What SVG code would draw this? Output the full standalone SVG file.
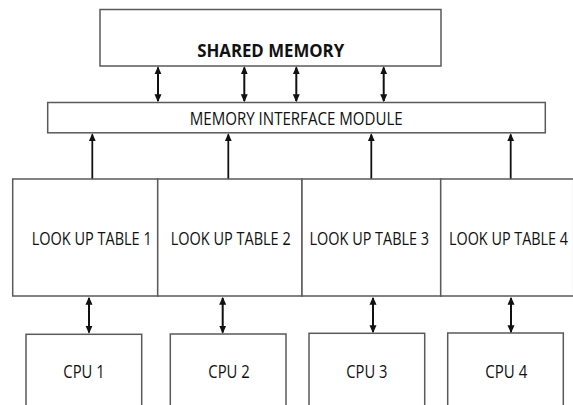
<svg xmlns="http://www.w3.org/2000/svg" width="573" height="405" viewBox="0 0 573 405">
  <defs>
    <marker id="ah" viewBox="0 0 8 8" refX="6.8" refY="4" markerWidth="8" markerHeight="8" markerUnits="userSpaceOnUse" orient="auto-start-reverse">
      <path d="M0,0.5 L8,4 L0,7.5 z" fill="#111"/>
    </marker>
  </defs>
  <style>
    .box { fill: #ffffff; stroke: #5a5a5a; stroke-width: 1.5; }
    .lbl { font-family: "Open Sans", "Liberation Sans", sans-serif; font-size: 17.5px; fill: #111; text-anchor: middle; }
    .bold { font-weight: bold; }
    .bi { stroke: #111; stroke-width: 2; marker-start: url(#ah); marker-end: url(#ah); }
    .up { stroke: #111; stroke-width: 1.8; marker-end: url(#ah); }
  </style>
  <rect width="573" height="405" fill="#ffffff"/>

  <g id="shared-memory">
    <rect class="box" x="100" y="9.5" width="341" height="56.5"/>
    <text class="lbl bold" x="270.7" y="57" textLength="147" lengthAdjust="spacingAndGlyphs">SHARED MEMORY</text>
  </g>

  <g id="memory-interface-module">
    <rect class="box" x="47.7" y="102.5" width="497.6" height="30.3"/>
    <text class="lbl" x="296.2" y="124.8" textLength="213" lengthAdjust="spacingAndGlyphs">MEMORY INTERFACE MODULE</text>
  </g>

  <g id="lut1">
    <rect class="box" x="12.7" y="179" width="145" height="117"/>
    <text class="lbl" x="91.7" y="245" textLength="120" lengthAdjust="spacingAndGlyphs">LOOK UP TABLE 1</text>
  </g>
  <g id="lut2">
    <rect class="box" x="157.7" y="179" width="144.3" height="117"/>
    <text class="lbl" x="230.7" y="245" textLength="120" lengthAdjust="spacingAndGlyphs">LOOK UP TABLE 2</text>
  </g>
  <g id="lut3">
    <rect class="box" x="302" y="179" width="138.7" height="117"/>
    <text class="lbl" x="369.3" y="245" textLength="119.5" lengthAdjust="spacingAndGlyphs">LOOK UP TABLE 3</text>
  </g>
  <g id="lut4">
    <rect class="box" x="440.7" y="179" width="133" height="117"/>
    <text class="lbl" x="508.5" y="245" textLength="119" lengthAdjust="spacingAndGlyphs">LOOK UP TABLE 4</text>
  </g>

  <g id="cpu1">
    <rect class="box" x="26" y="334.3" width="115.7" height="80"/>
    <text class="lbl" x="84" y="378.3" textLength="41.4" lengthAdjust="spacingAndGlyphs">CPU 1</text>
  </g>
  <g id="cpu2">
    <rect class="box" x="170.3" y="334" width="115.7" height="80"/>
    <text class="lbl" x="229" y="378.3" textLength="41.4" lengthAdjust="spacingAndGlyphs">CPU 2</text>
  </g>
  <g id="cpu3">
    <rect class="box" x="309" y="333.3" width="115.7" height="80"/>
    <text class="lbl" x="366.8" y="378.3" textLength="41" lengthAdjust="spacingAndGlyphs">CPU 3</text>
  </g>
  <g id="cpu4">
    <rect class="box" x="447.7" y="333" width="115.6" height="80"/>
    <text class="lbl" x="506.3" y="378.3" textLength="42" lengthAdjust="spacingAndGlyphs">CPU 4</text>
  </g>

  <g id="connectors">
    <line class="bi" x1="158" y1="67.5" x2="158" y2="101"/>
    <line class="bi" x1="244.3" y1="67.5" x2="244.3" y2="101"/>
    <line class="bi" x1="296.3" y1="67.5" x2="296.3" y2="101"/>
    <line class="bi" x1="383.7" y1="67.5" x2="383.7" y2="101"/>

    <line class="up" x1="92.3" y1="178.5" x2="92.3" y2="134.5"/>
    <line class="up" x1="228.3" y1="178.5" x2="228.3" y2="134.5"/>
    <line class="up" x1="371.3" y1="178.5" x2="371.3" y2="134.5"/>
    <line class="up" x1="510.7" y1="178.5" x2="510.7" y2="134.5"/>

    <line class="bi" x1="89" y1="298" x2="89" y2="332.5"/>
    <line class="bi" x1="222.7" y1="298" x2="222.7" y2="332.5"/>
    <line class="bi" x1="373" y1="298" x2="373" y2="332"/>
    <line class="bi" x1="511" y1="298" x2="511" y2="332"/>
  </g>
</svg>
